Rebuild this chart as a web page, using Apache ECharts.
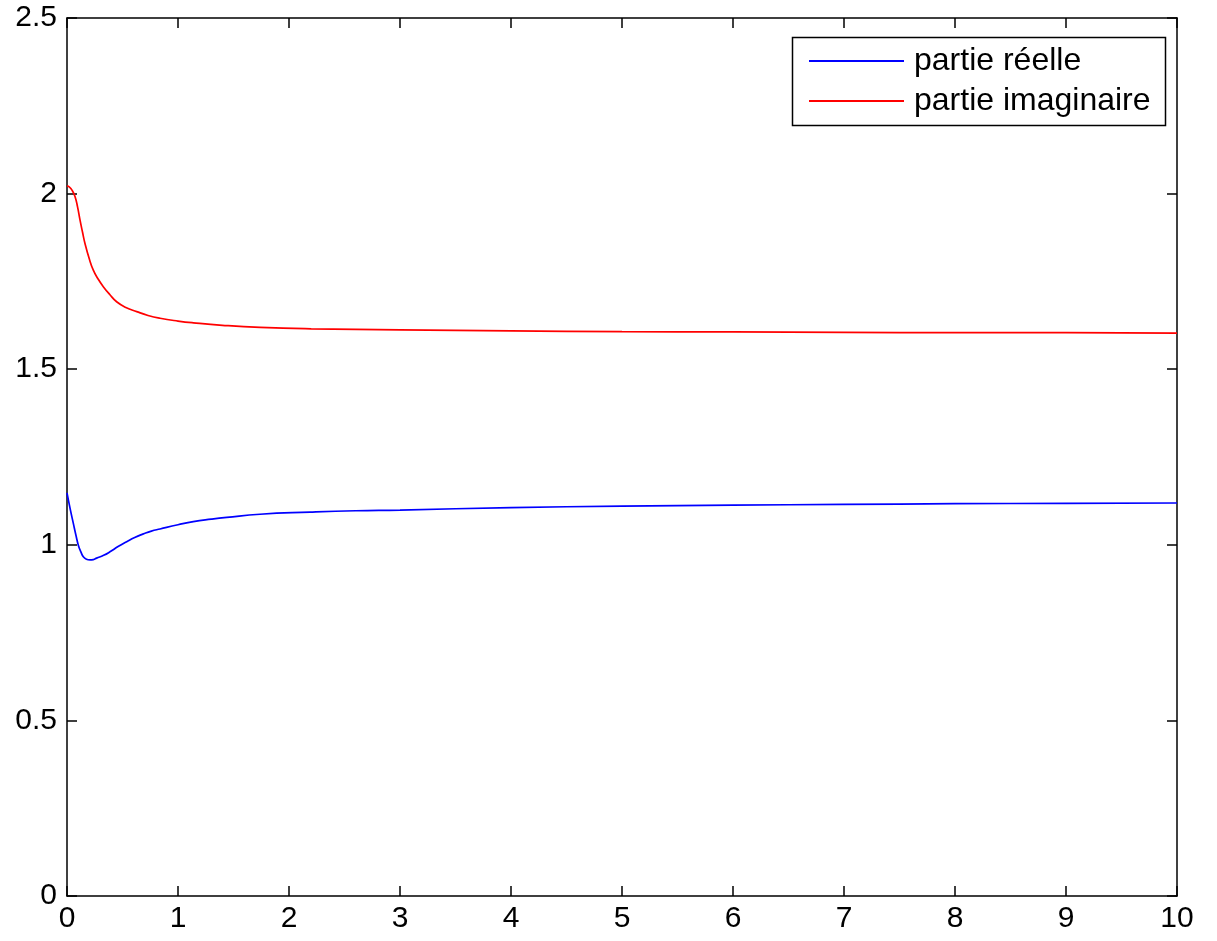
<!DOCTYPE html>
<html><head><meta charset="utf-8">
<script src="https://cdn.jsdelivr.net/npm/echarts@6/dist/echarts.min.js"></script>
<style>html,body{margin:0;padding:0;background:#fff}#c{width:1217px;height:941px}</style>
</head><body><div id="c"></div>
<script>
const tReal = [0, 0.03, 0.057, 0.08, 0.102, 0.125, 0.147, 0.175, 0.207, 0.237, 0.267, 0.33, 0.387, 0.46, 0.538, 0.61, 0.688, 0.76, 0.838, 1.0, 1.138, 1.3, 1.439, 1.739, 2.189, 2.6, 3, 4, 5, 6, 7, 8, 9, 10];
const realPart = [1.148, 1.100, 1.061, 1.028, 0.999, 0.980, 0.966, 0.959, 0.957, 0.958, 0.962, 0.970, 0.980, 0.995, 1.009, 1.021, 1.031, 1.039, 1.045, 1.057, 1.066, 1.073, 1.078, 1.087, 1.093, 1.097, 1.099, 1.106, 1.110, 1.113, 1.115, 1.117, 1.118, 1.119];
const tImag = [0, 0.02, 0.045, 0.072, 0.095, 0.117, 0.14, 0.162, 0.2, 0.237, 0.28, 0.327, 0.387, 0.447, 0.53, 0.628, 0.73, 0.838, 1.0, 1.138, 1.4, 1.74, 2.2, 3, 4, 5, 6, 7, 8, 9, 10];
const imagPart = [2.022, 2.019, 2.010, 1.992, 1.962, 1.925, 1.890, 1.858, 1.815, 1.782, 1.757, 1.735, 1.712, 1.692, 1.676, 1.664, 1.653, 1.645, 1.637, 1.632, 1.625, 1.619, 1.615, 1.612, 1.609, 1.607, 1.606, 1.605, 1.604, 1.604, 1.603];
const xTicks = [0,1,2,3,4,5,6,7,8,9,10];
const yTicks = [0,0.5,1,1.5,2,2.5];
const names = ['partie réelle', 'partie imaginaire'];

const font = 'Liberation Sans, Arial, sans-serif';
const pair = (xs, ys) => xs.map((x, i) => [x, ys[i]]);
const axisCommon = {
  axisLine: {show: true, onZero: false, lineStyle: {color: '#000', width: 1.5}},
  axisTick: {show: true, inside: true, length: 10, lineStyle: {color: '#000', width: 1.5}},
  splitLine: {show: false}
};
const chart = echarts.init(document.getElementById('c'));
chart.setOption({
  animation: false,
  backgroundColor: '#fff',
  grid: {left: 67, right: 40, top: 18, bottom: 45, containLabel: false},
  xAxis: [
    Object.assign({type: 'value', min: xTicks[0], max: xTicks[xTicks.length-1], interval: 1, position: 'bottom',
      axisLabel: {color: '#000', fontSize: 30, fontFamily: font, margin: 8}}, axisCommon),
    Object.assign({type: 'value', min: xTicks[0], max: xTicks[xTicks.length-1], interval: 1, position: 'top',
      axisLabel: {show: false}}, axisCommon)
  ],
  yAxis: [
    Object.assign({type: 'value', min: yTicks[0], max: yTicks[yTicks.length-1], interval: 0.5, position: 'left',
      axisLabel: {color: '#000', fontSize: 30, fontFamily: font, margin: 10, verticalAlign: 'middle', padding: [4,0,0,0]}}, axisCommon),
    Object.assign({type: 'value', min: yTicks[0], max: yTicks[yTicks.length-1], interval: 0.5, position: 'right',
      axisLabel: {show: false}}, axisCommon)
  ],
  legend: {
    show: true, orient: 'vertical', left: 809, top: 45, padding: 0,
    itemWidth: 95, itemHeight: 2, itemGap: 8,
    textStyle: {color: '#000', fontSize: 32, lineHeight: 31, fontFamily: font, padding: [0,0,0,5]},
    data: names.map(n => ({name: n, icon: 'rect'}))
  },
  graphic: [{type: 'rect', left: 790, top: 35, shape: {width: 373, height: 88},
    style: {fill: 'none', stroke: '#000', lineWidth: 1.5}, z: 100}],
  series: [
    {name: names[0], type: 'line', data: pair(tReal, realPart), smooth: 0.5, symbol: 'none',
     lineStyle: {color: '#0000ff', width: 1.7}, itemStyle: {color: '#0000ff'}},
    {name: names[1], type: 'line', data: pair(tImag, imagPart), smooth: 0.5, symbol: 'none',
     lineStyle: {color: '#ff0000', width: 1.7}, itemStyle: {color: '#ff0000'}}
  ]
});
</script></body></html>
